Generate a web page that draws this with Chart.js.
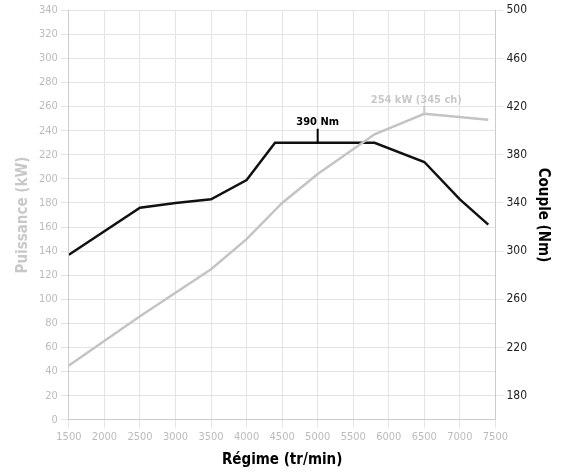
<!DOCTYPE html>
<html><head><meta charset="utf-8">
<script src="https://cdn.jsdelivr.net/npm/chart.js@4"></script>
<style>body{margin:0;background:#fff}#wrap{width:562px;height:473px}</style>
</head><body><div id="wrap"><canvas id="c"></canvas></div>
<script>
const rpmPower = [1500, 2500, 3500, 4000, 4500, 5000, 5800, 6500, 7400];
const powerKw = [45, 86, 125, 150, 180, 204, 237, 254, 249];
const rpmTorque = [1500, 2500, 3000, 3500, 4000, 4400, 5000, 5800, 6500, 7000, 7400];
const torqueNm = [297, 336, 340, 343, 359, 390, 390, 390, 374, 343, 322];
const rightTicks = [180, 220, 260, 300, 340, 380, 420, 460, 500];
const font = "'DejaVu Sans Condensed', 'Liberation Sans Narrow', sans-serif";

const labels = {
  id: 'labels',
  afterDatasetsDraw(chart) {
    const ctx = chart.ctx, x = chart.scales.x, yr = chart.scales.y2, yl = chart.scales.y;
    ctx.save();
    ctx.font = 'bold 11px ' + font;
    ctx.textAlign = 'center';
    const tx = x.getPixelForValue(5000), ty = yr.getPixelForValue(390);
    ctx.strokeStyle = '#000'; ctx.lineWidth = 2;
    ctx.beginPath(); ctx.moveTo(tx, ty); ctx.lineTo(tx, ty - 14); ctx.stroke();
    ctx.fillStyle = '#000';
    ctx.fillText('390 Nm', tx, ty - 18);
    const px = x.getPixelForValue(6500), py = yl.getPixelForValue(254);
    ctx.strokeStyle = '#c8c8c8';
    ctx.beginPath(); ctx.moveTo(px, py); ctx.lineTo(px, py - 8); ctx.stroke();
    ctx.fillStyle = '#c8c8c8';
    ctx.fillText('254 kW (345 ch)', px - 8, py - 11);
    ctx.restore();
  }
};

new Chart(document.getElementById('c'), {
  type: 'line',
  data: {
    datasets: [
      { data: rpmPower.map((r, i) => ({x: r, y: powerKw[i]})), yAxisID: 'y',
        borderColor: '#c4c4c4', borderWidth: 2.5, pointRadius: 0, tension: 0 },
      { data: rpmTorque.map((r, i) => ({x: r, y: torqueNm[i]})), yAxisID: 'y2',
        borderColor: '#111', borderWidth: 2.5, pointRadius: 0, tension: 0 }
    ]
  },
  options: {
    responsive: true, maintainAspectRatio: false, animation: false,
    layout: { padding: { top: 8, right: 6, left: 10 } },
    plugins: { legend: { display: false }, tooltip: { enabled: false } },
    scales: {
      x: { type: 'linear', min: 1500, max: 7500,
        ticks: { stepSize: 500, color: '#bbb', font: { family: font, size: 11 }, maxRotation: 0, callback: v => String(v) },
        grid: { color: '#e4e4e4' }, border: { color: '#ccc' },
        title: { display: true, text: 'Régime (tr/min)', color: '#000', font: { family: font, size: 15, weight: 'bold' } } },
      y: { min: 0, max: 340, position: 'left',
        ticks: { stepSize: 20, color: '#bbb', font: { family: font, size: 11 } },
        grid: { color: '#e4e4e4' }, border: { color: '#ccc' },
        title: { display: true, text: 'Puissance (kW)', color: '#c8c8c8', font: { family: font, size: 15, weight: 'bold' } } },
      y2: { min: 160, max: 500, position: 'right',
        afterBuildTicks: s => { s.ticks = rightTicks.map(v => ({value: v})); },
        ticks: { color: '#222', font: { family: font, size: 12 } },
        grid: { drawOnChartArea: false }, border: { color: '#ccc' },
        title: { display: true, text: 'Couple (Nm)', color: '#000', font: { family: font, size: 15, weight: 'bold' } } }
    }
  },
  plugins: [labels]
});
</script></body></html>
